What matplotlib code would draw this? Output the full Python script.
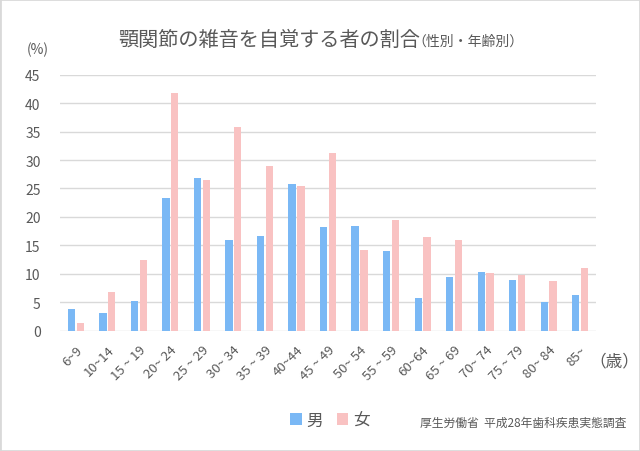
import numpy as np
import matplotlib.pyplot as plt
from matplotlib.patches import Rectangle

plt.rcParams['font.family'] = ['Noto Sans CJK JP', 'DejaVu Sans']

# Data
age_groups = ["6~9", "10~14", "15 ~ 19", "20~ 24", "25 ~ 29", "30~ 34", "35 ~ 39",
              "40~44", "45 ~ 49", "50~ 54", "55 ~ 59", "60~64", "65 ~ 69",
              "70~ 74", "75 ~ 79", "80~ 84", "85~"]
male = [3.75, 3.05, 5.3, 23.4, 26.9, 15.9, 16.6, 25.8, 18.2,
        18.45, 14.0, 5.8, 9.4, 10.4, 9.0, 5.0, 6.3]
female = [1.35, 6.8, 12.4, 41.7, 26.5, 35.8, 28.9, 25.4, 31.2,
          14.2, 19.45, 16.4, 15.9, 10.1, 9.85, 8.8, 11.1]

blue = '#7ab8f5'
pink = '#f9c2c2'
text_color = '#595959'

fig = plt.figure(figsize=(6.4, 4.52), dpi=100)
ax = fig.add_axes([60 / 640, 1 - 331.7 / 452, 536 / 640, 256 / 452])

x = np.arange(len(age_groups))
w = 0.23
ax.bar(x - 0.14, male, width=w, color=blue, label='男', zorder=3)
ax.bar(x + 0.14, female, width=w, color=pink, label='女', zorder=3)

ax.set_xlim(-0.5, len(age_groups) - 0.5)
ax.set_ylim(0, 45)
ax.set_yticks(range(0, 46, 5))
ax.grid(axis='y', color='#d9d9d9', linewidth=1, zorder=0)
for s in ax.spines.values():
    s.set_visible(False)
ax.tick_params(axis='both', length=0, colors=text_color, labelsize=10)
ax.tick_params(axis='y', pad=14)
ax.tick_params(axis='x', pad=9)
ax.set_xticks(x)
ax.set_xticklabels(age_groups, rotation=45, ha='right', rotation_mode='anchor',
                   fontsize=9.5)

# Titles and annotations
fig.text(118 / 640, 1 - 40 / 452, '顎関節の雑音を自覚する者の割合', fontsize=14.5,
         color=text_color, va='center', ha='left')
fig.text(412 / 640, 1 - 42 / 452, '（性別・年齢別）', fontsize=10,
         color=text_color, va='center', ha='left')
fig.text(38 / 640, 1 - 50 / 452, '(%)', fontsize=10, color=text_color,
         ha='center', va='center')
fig.text(614 / 640, 1 - 362 / 452, '（歳）', fontsize=12, color=text_color,
         ha='center', va='center')
fig.text(626 / 640, 1 - 423 / 452, '厚生労働省  平成28年歯科疾患実態調査', fontsize=8.5,
         color=text_color, ha='right', va='center')

fig.legend(loc='center', bbox_to_anchor=(330 / 640, 1 - 421 / 452), ncol=2,
           frameon=False, fontsize=12, handlelength=0.7, handleheight=0.7,
           handletextpad=0.3, columnspacing=0.8, labelcolor=text_color)

fig.patches.append(Rectangle((0, 0), 1, 1, transform=fig.transFigure,
                             fill=False, edgecolor='#d9d9d9', linewidth=2))

fig.savefig('out.png', dpi=100)
